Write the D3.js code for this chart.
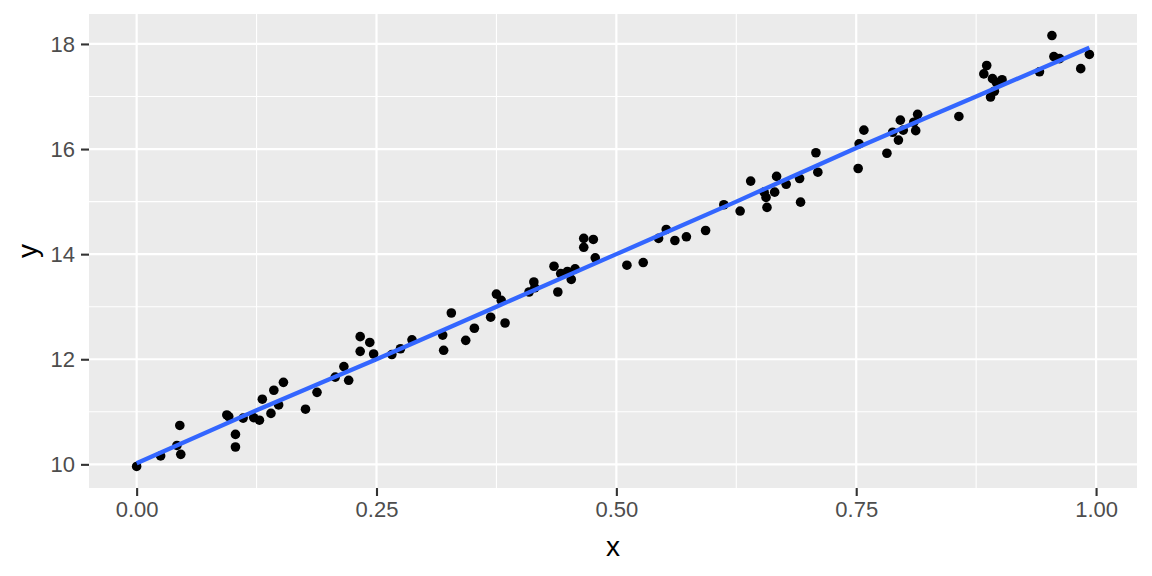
<!DOCTYPE html>
<html>
<head>
<meta charset="utf-8">
<script src="https://cdn.jsdelivr.net/npm/d3@7"></script>
<style>
body { margin: 0; background: #ffffff; }
svg { display: block; }
</style>
</head>
<body>
<svg id="chart"></svg>
<script>
// points
var xs = [0.000,0.025,0.042,0.045,0.046,0.094,0.096,0.103,0.103,0.111,0.122,0.128,0.131,0.140,0.143,0.148,0.153,
  0.176,0.188,0.207,0.216,0.221,0.233,0.233,0.243,0.247,0.266,0.275,0.287,0.319,0.320,0.328,0.343,0.352,0.369,
  0.375,0.380,0.384,0.409,0.414,0.415,0.435,0.439,0.442,0.449,0.453,0.457,0.466,0.466,0.476,0.478,0.511,0.528,
  0.544,0.552,0.561,0.573,0.593,0.612,0.629,0.640,0.654,0.656,0.657,0.665,0.667,0.677,0.691,0.692,0.708,0.710,
  0.752,0.753,0.758,0.782,0.788,0.794,0.796,0.799,0.810,0.812,0.814,0.857,0.883,0.886,0.890,0.892,0.894,0.896,
  0.902,0.941,0.954,0.956,0.962,0.984,0.993];
var ys = [9.96,10.16,10.36,10.74,10.19,10.94,10.91,10.57,10.33,10.88,10.89,10.84,11.24,10.97,11.41,11.13,11.56,
  11.05,11.37,11.66,11.86,11.60,12.43,12.15,12.32,12.10,12.09,12.20,12.37,12.46,12.17,12.88,12.36,12.59,12.80,
  13.24,13.12,12.69,13.28,13.47,13.36,13.77,13.28,13.63,13.67,13.52,13.72,14.30,14.13,14.28,13.93,13.79,13.84,
  14.30,14.47,14.26,14.33,14.45,14.94,14.82,15.39,15.18,15.08,14.89,15.18,15.48,15.33,15.44,14.99,15.93,15.56,
  15.63,16.10,16.36,15.92,16.32,16.17,16.55,16.36,16.51,16.35,16.66,16.62,17.43,17.59,16.99,17.34,17.10,17.27,
  17.32,17.47,18.16,17.76,17.72,17.53,17.80];

// smooth curve at a few x positions
var smoothX = [0, 0.125, 0.25, 0.375, 0.5, 0.625, 0.75, 0.875, 0.993];
var smoothY = [10.02, 11.03, 12.0, 13.0, 14.0, 15.0, 16.02, 17.0, 17.93];

var xTicks = [0, 0.25, 0.5, 0.75, 1];
var xMinor = [0.125, 0.375, 0.625, 0.875];
var yTicks = [10, 12, 14, 16, 18];
var yMinor = [11, 13, 15, 17];

var W = 1152, H = 576;
var panel = {left: 89, right: 1137, top: 14, bottom: 488};

var svg = d3.select("#chart").attr("width", W).attr("height", H);

var points = xs.map(function(x, i) { return {x: x, y: ys[i]}; });
var smooth = smoothX.map(function(x, i) { return {x: x, y: smoothY[i]}; });

// ggplot style 5% expansion
var expand = function(ext) {
    var d = (ext[1] - ext[0]) * 0.05;
    return [ext[0] - d, ext[1] + d];
}

var xScale = d3.scaleLinear()
    .domain(expand(d3.extent(xs)))
    .range([panel.left, panel.right]);
var yScale = d3.scaleLinear()
    .domain(expand(d3.extent(ys)))
    .range([panel.bottom, panel.top]);

// panel
svg.append("rect")
    .attr("x", panel.left).attr("y", panel.top)
    .attr("width", panel.right - panel.left)
    .attr("height", panel.bottom - panel.top)
    .attr("fill", "#EBEBEB");

var grid = svg.append("g");
grid.selectAll(".vminor").data(xMinor).enter().append("line")
    .attr("x1", function(d) { return xScale(d); }).attr("x2", function(d) { return xScale(d); })
    .attr("y1", panel.top).attr("y2", panel.bottom)
    .attr("stroke", "#ffffff").attr("stroke-width", 1.1);
grid.selectAll(".hminor").data(yMinor).enter().append("line")
    .attr("y1", function(d) { return yScale(d); }).attr("y2", function(d) { return yScale(d); })
    .attr("x1", panel.left).attr("x2", panel.right)
    .attr("stroke", "#ffffff").attr("stroke-width", 1.1);
grid.selectAll(".vmajor").data(xTicks).enter().append("line")
    .attr("x1", function(d) { return xScale(d); }).attr("x2", function(d) { return xScale(d); })
    .attr("y1", panel.top).attr("y2", panel.bottom)
    .attr("stroke", "#ffffff").attr("stroke-width", 2.2);
grid.selectAll(".hmajor").data(yTicks).enter().append("line")
    .attr("y1", function(d) { return yScale(d); }).attr("y2", function(d) { return yScale(d); })
    .attr("x1", panel.left).attr("x2", panel.right)
    .attr("stroke", "#ffffff").attr("stroke-width", 2.2);

// points
svg.append("g").selectAll("circle")
    .data(points)
    .enter()
    .append("circle")
    .attr("cx", function(p) { return xScale(p.x); })
    .attr("cy", function(p) { return yScale(p.y); })
    .attr("r", 4.8)
    .attr("fill", "#000000");

// smooth line
var line = d3.line()
    .curve(d3.curveMonotoneX)
    .x(function(d) { return xScale(d.x); })
    .y(function(d) { return yScale(d.y); });
svg.append("path")
    .datum(smooth)
    .attr("d", line)
    .attr("fill", "none")
    .attr("stroke", "#3366FF")
    .attr("stroke-width", 4.3);

// axes
var xAxis = d3.axisBottom(xScale).tickValues(xTicks).tickFormat(d3.format(".2f"))
    .tickSize(8).tickPadding(5);
var yAxis = d3.axisLeft(yScale).tickValues(yTicks).tickFormat(d3.format("d"))
    .tickSize(8).tickPadding(6);

var gx = svg.append("g").attr("transform", "translate(0," + panel.bottom + ")").call(xAxis);
var gy = svg.append("g").attr("transform", "translate(" + panel.left + ",0)").call(yAxis);

[gx, gy].forEach(function(g) {
    g.select(".domain").remove();
    g.selectAll(".tick line").attr("stroke", "#333333").attr("stroke-width", 2.1);
    g.selectAll(".tick text")
        .attr("fill", "#4D4D4D")
        .style("font-family", "Arial, 'Liberation Sans', sans-serif")
        .style("font-size", "22px");
});

// axis titles
svg.append("text")
    .attr("x", (panel.left + panel.right) / 2)
    .attr("y", 556)
    .attr("text-anchor", "middle")
    .style("font-family", "Arial, 'Liberation Sans', sans-serif")
    .style("font-size", "28px")
    .attr("fill", "#000000")
    .text("x");

svg.append("text")
    .attr("transform", "translate(37," + ((panel.top + panel.bottom) / 2) + ") rotate(-90)")
    .attr("text-anchor", "middle")
    .style("font-family", "Arial, 'Liberation Sans', sans-serif")
    .style("font-size", "28px")
    .attr("fill", "#000000")
    .text("y");
</script>
</body>
</html>
